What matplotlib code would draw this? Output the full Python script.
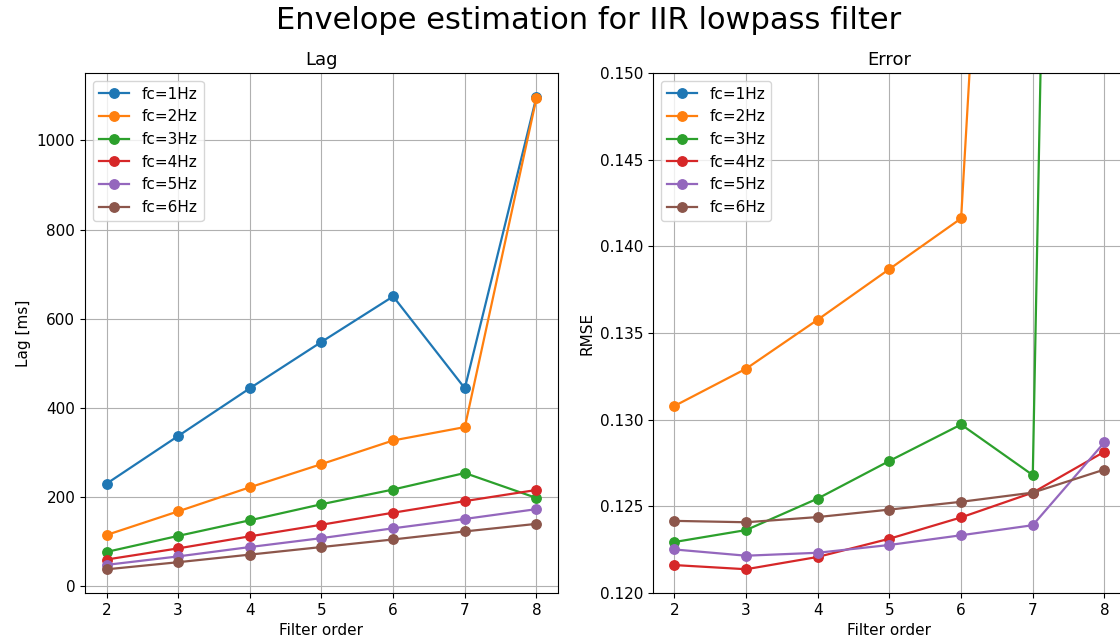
import matplotlib
matplotlib.use('Agg')
import matplotlib.pyplot as plt

orders = [2, 3, 4, 5, 6, 7, 8]
cutoffs = [1, 2, 3, 4, 5, 6]

# lag in ms, one list per cutoff frequency
lag_fc1 = [230, 337, 444, 548, 650, 444, 1098]
lag_fc2 = [115, 168, 222, 274, 327, 357, 1095]
lag_fc3 = [77, 113, 148, 184, 217, 254, 198]
lag_fc4 = [60, 85, 112, 138, 165, 191, 216]
lag_fc5 = [48, 67, 88, 108, 130, 151, 173]
lag_fc6 = [38, 54, 71, 88, 105, 123, 140]

# rmse, one list per cutoff frequency (fc=1Hz is above the visible range)
rmse_fc1 = [0.152, 0.158, 0.165, 0.172, 0.180, 0.200, 0.260]
rmse_fc2 = [0.13079, 0.13294, 0.13577, 0.13869, 0.14161, 0.213, 0.25]
rmse_fc3 = [0.12294, 0.12363, 0.12545, 0.12762, 0.12972, 0.12680, 0.342]
rmse_fc4 = [0.12161, 0.12137, 0.12208, 0.12313, 0.12436, 0.12579, 0.12815]
rmse_fc5 = [0.12251, 0.12215, 0.12232, 0.12277, 0.12333, 0.12391, 0.12869]
rmse_fc6 = [0.12416, 0.12408, 0.12438, 0.12481, 0.12526, 0.12579, 0.12712]

lags = [lag_fc1, lag_fc2, lag_fc3, lag_fc4, lag_fc5, lag_fc6]
rmses = [rmse_fc1, rmse_fc2, rmse_fc3, rmse_fc4, rmse_fc5, rmse_fc6]

plt.rcParams['font.size'] = 11
plt.rcParams['axes.titlesize'] = 13
plt.rcParams['lines.linewidth'] = 1.6
plt.rcParams['lines.markersize'] = 6.8

fig = plt.figure(figsize=(11.2, 6.43), dpi=100)
# right panel runs past the image edge, like the cropped original
ax1 = fig.add_axes([0.0759, 0.0778, 0.4223, 0.8087])
ax2 = fig.add_axes([0.583, 0.0778, 0.4223, 0.8087])

for fc, lag, rmse in zip(cutoffs, lags, rmses):
    ax1.plot(orders, lag, marker='o', label=f'fc={fc}Hz')
    ax2.plot(orders, rmse, marker='o', label=f'fc={fc}Hz')

ax1.set_title('Lag')
ax1.set_xlabel('Filter order')
ax1.set_ylabel('Lag [ms]')
ax1.grid(True)
ax1.legend(loc='upper left')

ax2.set_title('Error')
ax2.set_xlabel('Filter order')
ax2.set_ylabel('RMSE')
ax2.set_ylim(0.12, 0.15)
ax2.grid(True)
ax2.legend(loc='upper left')

fig.suptitle('Envelope estimation for IIR lowpass filter', fontsize=22, x=0.526, y=0.99)

plt.savefig('out.png', dpi=100)
